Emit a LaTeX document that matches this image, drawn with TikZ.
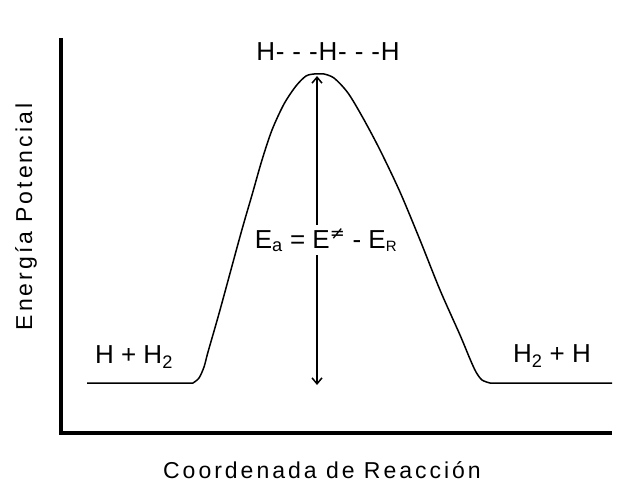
\documentclass[tikz,border=0pt]{standalone}
\usepackage{fontspec}
\setmainfont{Liberation Sans}
\newfontfamily\symfont{DejaVu Sans}
\usetikzlibrary{arrows.meta}
\begin{document}
\begin{tikzpicture}[x=1pt,y=-1pt,
  lbl/.style={inner sep=0pt,font=\fontsize{26}{30}\selectfont},
  axlbl/.style={inner sep=0pt,font=\fontsize{23}{27}\selectfont\addfontfeature{LetterSpace=13}},
  axisline/.style={line width=4pt},
  curveline/.style={line width=1.5pt,line join=round},
  arr/.style={line width=1.5pt,{Straight Barb[length=6pt,width=10pt]}-{Straight Barb[length=6pt,width=10pt]}}]
\useasboundingbox (0,0) rectangle (624,484);
% axes
\coordinate (ytop) at (61,38);
\coordinate (orig) at (61,433);
\coordinate (xend) at (612,433);
\draw[axisline] (ytop) -- (orig) -- (xend);
% energy profile
\draw[curveline] (87,383) -- (193,383)
  plot[smooth,tension=0.5] coordinates {(193,383) (199,378) (204,367) (208,352)
    (220,310) (241,233) (252,195) (262,160) (272,130) (284,104) (296,86) (306,76) (314,74)}
  -- (324,74)
  plot[smooth,tension=0.5] coordinates {(324,74) (334,78) (348,93) (363,118) (380,150)
    (400,192) (420,240) (440,290) (460,335) (470,359) (476,372) (482,380) (490,383)}
  -- (612,383);
% labels
\node[lbl,font=\fontsize{26}{30}\selectfont\addfontfeature{LetterSpace=3}] (ts) at (328,52) {H- - -H- - -H};
\node[lbl] (react) at (134,357) {H + H\textsubscript{2}};
\node[lbl] (prod) at (552,356) {H\textsubscript{2} + H};
\coordinate (atop) at (317,76);
\coordinate (abot) at (317,385);
\draw[arr] (abot) -- (atop);
\node[lbl,fill=white,inner sep=3pt] (ea) at (326,240)
  {E\textsubscript{a} = E\textsuperscript{\symfont\fontsize{18}{18}\selectfont ≠} - E\textsubscript{\fontsize{15}{15}\selectfont R}};
\node[axlbl,rotate=90] (ylab) at (26,217) {Energía Potencial};
\node[axlbl] (xlab) at (322,470) {Coordenada de Reacción};
\end{tikzpicture}
\end{document}
